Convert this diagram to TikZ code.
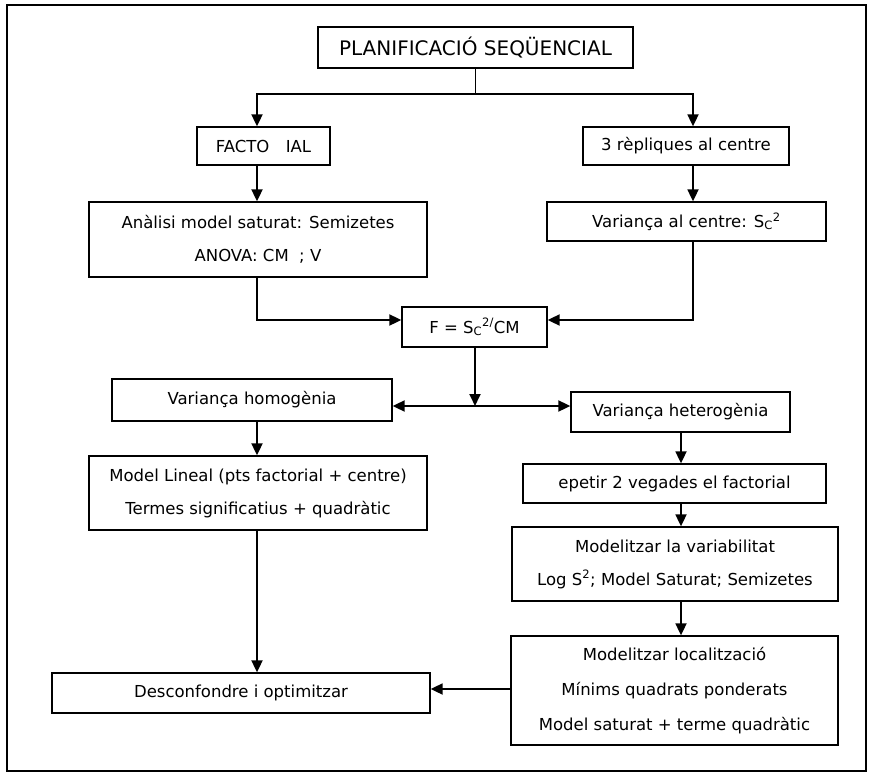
\documentclass[tikz,border=0pt]{standalone}
\usepackage{fontspec}
\setmainfont{DejaVu Sans}
\usetikzlibrary{arrows.meta}

\tikzset{every picture/.style={line width=1.3pt}}
\tikzset{
  caixa/.style={draw, line width=1.3pt, inner sep=0pt, align=center, font=\fontsize{16.5}{33}\selectfont},
  linia/.style={line width=1.8pt},
  fletxa/.style={line width=1.8pt, -{Triangle[length=12pt,width=11pt]}},
}

\begin{document}
\begin{tikzpicture}[x=1pt,y=1pt,yscale=-1,xscale=1]
    \useasboundingbox (0,0) rectangle (871,776);

    %Shape: Rectangle
    \draw [line width=1.5pt] (7,5) rectangle (866,771) ;

    % Text Node
    \node [caixa, font=\fontsize{20}{24}\selectfont, minimum width=315, minimum height=41] (plan) at (475.5,47.5) {PLANIFICACIÓ SEQÜENCIAL};
    % Text Node
    \node [caixa, minimum width=133, minimum height=38] (fact) at (263.5,146) {FACTO\hspace{1em}IAL};
    % Text Node
    \node [caixa, minimum width=206, minimum height=38] (rep) at (686,146) {3 rèpliques al centre};
    % Text Node
    \node [caixa, minimum width=338, minimum height=75] (anal) at (258,239.5) {Anàlisi model saturat: Semizetes\\ANOVA: CM~~; V};
    % Text Node
    \node [caixa, minimum width=279, minimum height=39] (cent) at (686.5,221.5) {Variança al centre: S\textsubscript{C}\textsuperscript{2}};
    % Text Node
    \node [caixa, minimum width=145, minimum height=40] (F) at (474.5,327) {F = S\textsubscript{C}\textsuperscript{2/}CM};
    % Text Node
    \node [caixa, minimum width=280, minimum height=42] (homo) at (252,400) {Variança homogènia};
    % Text Node
    \node [caixa, minimum width=219, minimum height=40] (hete) at (680.5,412) {Variança heterogènia};
    % Text Node
    \node [caixa, minimum width=338, minimum height=74] (lin) at (258,493) {Model Lineal (pts factorial + centre)\\Termes significatius + quadràtic};
    % Text Node
    \node [caixa, minimum width=303, minimum height=39] (rept) at (674.5,483.5) {epetir 2 vegades el factorial};
    % Text Node
    \node [caixa, minimum width=326, minimum height=74] (var) at (675,564) {Modelitzar la variabilitat\\Log S\textsuperscript{2}; Model Saturat; Semizetes};
    % Text Node
    \node [caixa, font=\fontsize{16.5}{35}\selectfont, minimum width=327, minimum height=109] (loc) at (674.5,690.5) {Modelitzar localització\\Mínims quadrats ponderats\\Model saturat + terme quadràtic};
    % Text Node
    \node [caixa, minimum width=378, minimum height=40] (desc) at (241,693) {Desconfondre i optimitzar};

    \coordinate (lcol) at (257,94);
    \coordinate (rcol) at (693,94);
    \coordinate (dcol) at (681,0);
    \coordinate (split) at (475,406);

    %Straight Lines
    \draw [fletxa] (plan.south) |- (lcol) -- (lcol |- fact.north) ;
    %Straight Lines
    \draw [fletxa] (plan.south) |- (rcol) -- (rcol |- rep.north) ;
    %Straight Lines
    \draw [fletxa] (fact.south -| lcol) -- (anal.north -| lcol) ;
    %Straight Lines
    \draw [fletxa] (rep.south -| rcol) -- (cent.north -| rcol) ;
    %Straight Lines
    \draw [fletxa] (anal.south -| lcol) |- ([yshift=-7pt]F.west) ;
    %Straight Lines
    \draw [fletxa] (cent.south -| rcol) |- ([yshift=-7pt]F.east) ;
    %Straight Lines
    \draw [fletxa] (split |- F.south) -- (split) ;
    \draw [fletxa] (split) -- (split -| homo.east) ;
    \draw [fletxa] (split) -- (split -| hete.west) ;
    %Straight Lines
    \draw [fletxa] (homo.south -| lcol) -- (lin.north -| lcol) ;
    %Straight Lines
    \draw [fletxa] (lin.south -| lcol) -- (desc.north -| lcol) ;
    %Straight Lines
    \draw [fletxa] (hete.south -| dcol) -- (rept.north -| dcol) ;
    \draw [fletxa] (rept.south -| dcol) -- (var.north -| dcol) ;
    \draw [fletxa] (var.south -| dcol) -- (loc.north -| dcol) ;
    %Straight Lines
    \draw [fletxa] ([yshift=-4pt]desc.east -| loc.west) -- ([yshift=-4pt]desc.east) ;

\end{tikzpicture}
\end{document}
